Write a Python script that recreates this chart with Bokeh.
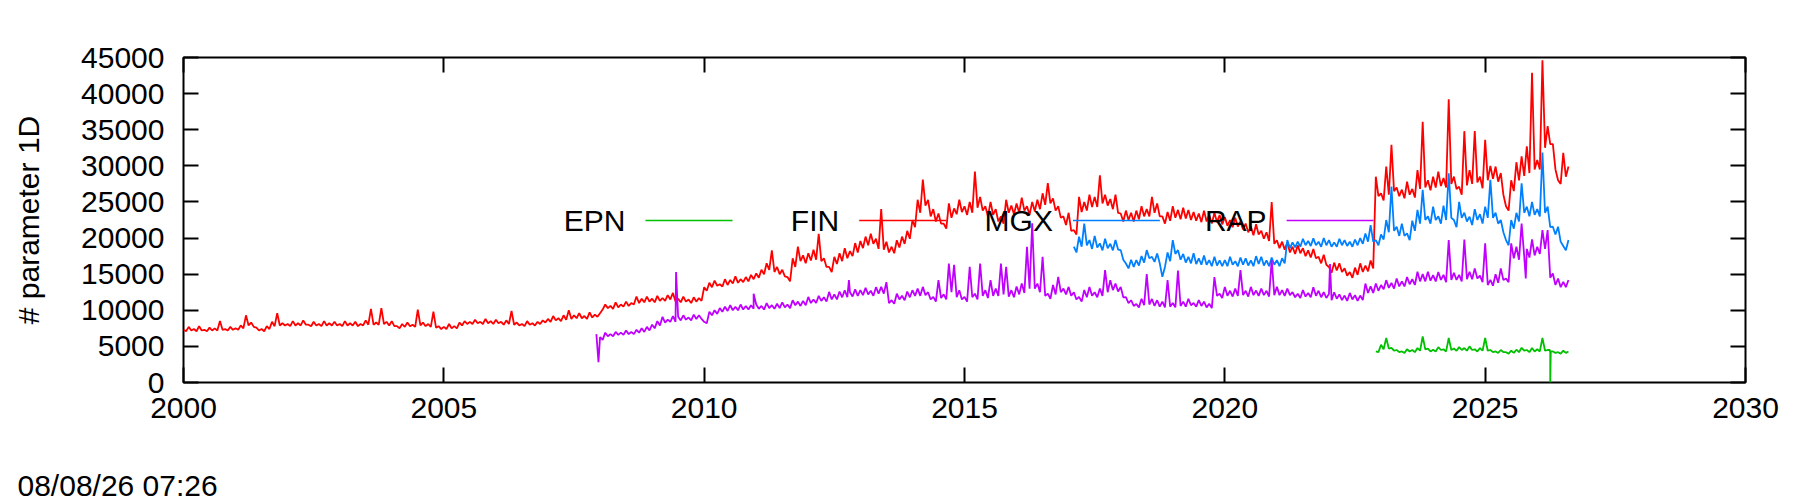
import numpy as np
from bokeh.plotting import figure
from bokeh.layouts import column
from bokeh.models import Range1d, FixedTicker, LinearAxis, Label, NumeralTickFormatter
from bokeh.embed import file_html
from bokeh.resources import INLINE

# ---------------- data ----------------
X_TICKS = [2000, 2005, 2010, 2015, 2020, 2025, 2030]
Y_TICKS = [0, 5000, 10000, 15000, 20000, 25000, 30000, 35000, 40000, 45000]
SERIES = ["EPN", "FIN", "MGX", "RAP"]
COLORS = {"EPN": "#00c000", "FIN": "#ff0000", "MGX": "#0080ff", "RAP": "#c000ff"}
Y_LABEL = "# parameter 1D"
TIMESTAMP = "08/08/26 07:26"
STEP = 0.1  # sampling interval (years) of the *_VALUES lists; *_LOWS sit half a step later

FIN_START = 2000.0
FIN_VALUES = [
    7300, 7700, 7400, 7800, 7300, 7600, 7500, 8500, 7400, 7700,
    7500, 7900, 9300, 8300, 7600, 7400, 7800, 8400, 9600, 8200,
    8100, 8500, 8200, 8600, 8000, 8400, 8100, 8500, 8200, 8400,
    8100, 8500, 8200, 8400, 8100, 8600, 10200, 8300, 10300, 8400,
    8500, 7800, 8100, 8300, 8000, 10100, 8300, 8100, 9800, 7800,
    7700, 8100, 7800, 8300, 8500, 8400, 8700, 8400, 8800, 8500,
    8700, 8400, 8600, 9900, 8300, 8100, 8500, 8200, 8400, 8600,
    8800, 9200, 8900, 9300, 10000, 9300, 9600, 9200, 9700, 9400,
    9600, 10800, 10600, 11100, 10800, 11200, 11000, 11900, 11600, 11900,
    11600, 12000, 11700, 12100, 12400, 11600, 11900, 11500, 11800, 11700,
    13200, 13800, 14100, 13600, 14300, 14200, 14700, 14300, 14600, 14900,
    15100, 15600, 16500, 18300, 16000, 15600, 14600, 17200, 18800, 17600,
    17900, 18400, 20600, 17200, 16000, 17400, 17900, 18600, 18200, 19300,
    19600, 20200, 20600, 19900, 24000, 19500, 18800, 19700, 20200, 21000,
    22500, 25300, 28100, 25300, 24000, 23400, 22000, 24800, 24100, 25300,
    24400, 25000, 29200, 25700, 24400, 25000, 24000, 23000, 25300, 24500,
    24800, 25600, 24400, 25000, 25300, 26200, 27600, 25500, 24400, 23000,
    23500, 21100, 25700, 25000, 26000, 25700, 28700, 26000, 25400, 26000,
    23400, 23800, 23500, 23800, 24400, 24000, 25700, 24800, 23000, 23600,
    24400, 23900, 24200, 23900, 23600, 23400, 23800, 23200, 23500, 23200,
    22900, 22500, 22800, 22300, 22000, 21600, 21900, 21000, 20800, 25000,
    19700, 19500, 19400, 18800, 19000, 18600, 18300, 18500, 17400, 17700,
    16000, 16600, 16500, 15800, 15300, 15900, 16500, 16200, 16900, 28500,
    26200, 29900, 32900, 27000, 26700, 27800, 26800, 29400, 36100, 28000,
    28500, 29200, 28300, 39200, 28500, 27100, 34800, 29400, 34800, 28500,
    33600, 30000, 29900, 29000, 24400, 28000, 30500, 31300, 32700, 42900,
    30800, 44600, 35500, 33000, 28000, 31800, 29900,
]
FIN_LOWS = [
    7100, 7200, 7100, 7200, 7100, 7200, 7200, 7300, 7200, 7300,
    7300, 7500, 7900, 7700, 7200, 7100, 7400, 7800, 7900, 7900,
    7800, 7900, 7900, 8000, 7800, 7900, 7800, 7900, 7900, 7900,
    7800, 7900, 7900, 7800, 7900, 8000, 8000, 8000, 8100, 7900,
    7800, 7500, 7700, 7800, 7700, 7900, 7800, 7700, 7600, 7400,
    7400, 7500, 7500, 7900, 8100, 8100, 8200, 8100, 8200, 8100,
    8200, 8000, 8100, 8000, 7900, 7800, 8000, 7900, 8100, 8300,
    8400, 8600, 8500, 8700, 8800, 8900, 8900, 8800, 9000, 9100,
    10100, 10300, 10200, 10400, 10500, 10600, 10800, 11000, 11100, 11200,
    11100, 11300, 11300, 11500, 11200, 11100, 11200, 11000, 11200, 11300,
    12700, 13200, 13400, 13300, 13500, 13700, 13800, 13900, 14000, 14300,
    14500, 15000, 15600, 15300, 15000, 14700, 14000, 16000, 16800, 16500,
    16900, 17000, 16800, 16000, 15300, 16400, 16800, 17200, 17500, 18000,
    18600, 19000, 19200, 18500, 18400, 18000, 17900, 18700, 19200, 19900,
    21500, 23500, 24500, 23000, 22300, 22000, 21300, 22800, 23300, 23600,
    23200, 23500, 24200, 23800, 23000, 23200, 22300, 22000, 23500, 23300,
    23500, 23800, 23200, 23700, 24000, 24600, 24800, 23800, 22800, 21800,
    21000, 20500, 23600, 23800, 24300, 24300, 24800, 24500, 24000, 23500,
    22300, 22500, 22300, 22600, 23000, 23000, 23500, 23000, 22000, 22400,
    22800, 22600, 22700, 22500, 22400, 22200, 22300, 22000, 22200, 21900,
    21700, 21500, 21600, 21200, 20800, 20400, 20500, 19900, 19600, 19200,
    18600, 18400, 18000, 17800, 17900, 17500, 17300, 17200, 16500, 16300,
    15200, 15500, 15300, 14800, 14500, 14900, 15300, 15400, 15800, 25800,
    25200, 26000, 26500, 25800, 25500, 26000, 25600, 26800, 27000, 26600,
    27000, 27200, 27000, 27500, 26800, 26000, 27300, 27500, 27700, 26900,
    28000, 28200, 27800, 26000, 23800, 26500, 28000, 28600, 29000, 29500,
    29500, 32500, 33000, 29500, 27500, 28500,
]
FIN_EVENT_YEARS = []
FIN_EVENT_VALUES = []

RAP_START = 2008.0
RAP_VALUES = [
    6300, 6900, 6700, 7000, 6900, 7200, 7000, 7300, 7500, 7700,
    8000, 8500, 9100, 8700, 9200, 9100, 9300, 9000, 9400, 9300,
    8400, 9800, 10000, 10300, 10500, 10700, 10500, 10800, 10600, 10700,
    10800, 10600, 11000, 10700, 10900, 11100, 10800, 11400, 11200, 11300,
    11850, 11500, 12000, 11800, 12550, 12200, 12600, 12780, 12500, 12900,
    12800, 13100, 12700, 13200, 13240, 13900, 11400, 12300, 12000, 12600,
    12780, 13000, 13240, 12500, 11850, 14170, 12200, 16480, 16300, 12780,
    11850, 16020, 12300, 16480, 12780, 14170, 13000, 16480, 16000, 12780,
    13300, 13700, 18800, 22040, 13700, 17400, 12300, 13500, 14630, 13000,
    13240, 12500, 11850, 12800, 13240, 12500, 13000, 15560, 14170, 13700,
    13240, 11810, 11390, 10880, 11600, 15000, 11570, 11390, 11200, 14170,
    11000, 15500, 11200, 11600, 11000, 11400, 11200, 10900, 14600, 12300,
    13240, 12700, 13000, 15560, 12700, 13240, 12730, 13000, 12700, 16940,
    13240, 12780, 13000, 12500, 12300, 12800, 12400, 13200, 12700, 12500,
    12270, 12500, 12200, 12040, 12400, 12100, 12040, 13700, 13300, 13700,
    13500, 14170, 13800, 14400, 14000, 14600, 14300, 15330, 15000, 15330,
    14860, 15300, 14900, 19720, 15200, 14900, 19800, 15330, 15800, 14800,
    19260, 14200, 15000, 15800, 14400, 19260, 18800, 22000, 18500, 19800,
    18800, 21100, 21110, 15100, 14400, 13940, 14200,
]
RAP_LOWS = [
    5900, 6400, 6400, 6600, 6600, 6700, 6700, 6900, 7000, 7200,
    7500, 7900, 8300, 8400, 8400, 8600, 8700, 8600, 8800, 8800,
    8200, 9300, 9500, 9800, 9900, 10000, 10000, 10100, 10100, 10200,
    10200, 10100, 10300, 10200, 10300, 10400, 10300, 10700, 10600, 10700,
    11000, 11000, 11300, 11200, 11500, 11500, 11800, 11800, 11900, 12000,
    12100, 12200, 12000, 12300, 12300, 11000, 10900, 11500, 11400, 11800,
    12000, 12000, 12100, 11500, 11200, 11700, 11500, 12500, 11800, 11500,
    11200, 11800, 11500, 12000, 11700, 12000, 12000, 12200, 11900, 11800,
    12200, 12400, 13000, 13000, 12500, 12000, 11600, 12200, 12500, 12200,
    12000, 11500, 11200, 11800, 12000, 11800, 12000, 12500, 12800, 12600,
    11800, 11000, 10600, 10400, 10700, 10800, 10600, 10500, 10400, 10500,
    10400, 10600, 10500, 10700, 10500, 10600, 10400, 10300, 12000, 11700,
    12000, 11900, 12000, 12100, 11900, 12100, 12000, 12100, 11900, 12100,
    12100, 12000, 12100, 11800, 11700, 11900, 11800, 12000, 11800, 11700,
    11400, 11600, 11400, 11300, 11500, 11300, 11400, 12400, 12400, 12700,
    12900, 13100, 13000, 13300, 13300, 13600, 13500, 14000, 14000, 14100,
    14000, 14200, 13900, 14200, 14200, 14000, 14300, 14300, 14400, 13900,
    13500, 13400, 13800, 14200, 13900, 17200, 17000, 17500, 17300, 17600,
    17800, 18500, 14500, 13500, 13200, 13200,
]
RAP_EVENT_YEARS = [2007.93, 2007.97, 2009.46, 2010.95, 2012.78, 2022.02, 2025.78]
RAP_EVENT_VALUES = [6700, 2800, 15300, 12300, 14170, 16400, 14400]

MGX_START = 2017.1
MGX_VALUES = [
    18800, 20190, 22000, 19720, 20300, 19260, 19900, 19200, 19720,
    18330, 16480, 17000, 16940, 17500, 18330, 17400, 17870, 14630, 18000,
    19720, 18330, 17800, 17410, 17900, 17200, 17600, 16940, 17400, 16900,
    16940, 17400, 16800, 17300, 17180, 16900, 17500, 17410, 16900, 17300,
    16940, 17200, 19720, 19400, 19500, 19900, 19600, 19950, 19500, 20000,
    19720, 19400, 19900, 19720, 19500, 19800, 20000, 20640, 21800, 19720,
    20500, 22500, 27130, 21570, 22000, 20640, 22400, 23890, 26670, 23000,
    24350, 23000, 24500, 28980, 22500, 25000, 23500, 22960, 24000, 23300,
    24350, 28060, 23500, 22500, 19720, 22500, 23500, 27590, 24350, 25000,
    24000, 31850, 24350, 21570, 21570, 18890, 19720,
]
MGX_LOWS = [
    18000, 18800, 19000, 18500, 18700, 18300, 18600, 18300, 18400,
    17000, 15800, 16000, 16200, 16600, 17200, 16700, 16500, 16000, 16800,
    17800, 17000, 16600, 16500, 16400, 16300, 16300, 16100, 16200, 16100,
    16100, 16300, 16100, 16300, 16200, 16100, 16400, 16200, 16100, 16300,
    16100, 16500, 18600, 18700, 18800, 19000, 18900, 19000, 18800, 19000,
    18800, 18800, 19000, 18900, 18800, 19000, 19200, 19500, 19500, 19000,
    19800, 20800, 21000, 20300, 20300, 19700, 21000, 22000, 22500, 22000,
    22500, 22000, 22500, 22800, 21500, 22800, 22300, 21800, 22500, 22000,
    22800, 22800, 22000, 20800, 19000, 21300, 22300, 23500, 23000, 23200,
    23000, 23500, 21500, 20500, 19500, 18300,
]
MGX_EVENT_YEARS = []
MGX_EVENT_VALUES = []

EPN_START = 2022.9
EPN_VALUES = [
    4300,
    5230, 6160, 4800, 4500, 4300, 4600, 4500, 4770, 6390, 4700,
    4540, 4900, 4600, 6160, 4700, 4900, 4770, 5000, 4600, 4770,
    6160, 4500, 4300, 4500, 4200, 4400, 4540, 4800, 4500, 4770,
    4600, 6160, 4500, 4300, 4200, 4400, 4300,
]
EPN_LOWS = [
    4200,
    4600, 4700, 4400, 4200, 4100, 4300, 4200, 4400, 4600, 4300,
    4300, 4500, 4300, 4500, 4400, 4500, 4400, 4500, 4300, 4400,
    4400, 4200, 4100, 4200, 4000, 4100, 4200, 4400, 4200, 4300,
    4300, 4400, 4200, 4100, 4000, 4100,
]
EPN_EVENT_YEARS = [2026.24, 2026.25, 2026.26]
EPN_EVENT_VALUES = [4500, 0, 4300]

DATA = {
    "EPN": (EPN_START, EPN_VALUES, EPN_LOWS, EPN_EVENT_YEARS, EPN_EVENT_VALUES),
    "FIN": (FIN_START, FIN_VALUES, FIN_LOWS, FIN_EVENT_YEARS, FIN_EVENT_VALUES),
    "MGX": (MGX_START, MGX_VALUES, MGX_LOWS, MGX_EVENT_YEARS, MGX_EVENT_VALUES),
    "RAP": (RAP_START, RAP_VALUES, RAP_LOWS, RAP_EVENT_YEARS, RAP_EVENT_VALUES),
}

# ---------------- layout ----------------
X_MIN, X_MAX = 2000, 2030
Y_MIN, Y_MAX = 0, 45000
FRAME_W, FRAME_H = 1562, 325
BORDER_L, BORDER_R, BORDER_T, BORDER_B = 183, 50, 57, 58
FOOT_H = 62
FONT = "Liberation Sans"
FSIZE = "30px"
TOTAL_W = BORDER_L + FRAME_W + BORDER_R
DATA_LINE_W = 1.8

p = figure(width=TOTAL_W, height=BORDER_T + FRAME_H + BORDER_B,
           frame_width=FRAME_W, frame_height=FRAME_H,
           x_range=Range1d(X_MIN, X_MAX), y_range=Range1d(Y_MIN, Y_MAX),
           output_backend="svg", toolbar_location=None,
           min_border_left=BORDER_L, min_border_right=BORDER_R,
           min_border_top=BORDER_T, min_border_bottom=BORDER_B)
p.frame_align = False
p.xgrid.visible = False
p.ygrid.visible = False
p.outline_line_color = "black"
p.outline_line_width = 2
p.background_fill_color = "white"
p.border_fill_color = "white"


def style_axis(ax, ticks, show):
    ax.ticker = FixedTicker(ticks=ticks)
    ax.formatter = NumeralTickFormatter(format="0")
    ax.axis_line_color = None
    ax.major_tick_in = 15
    ax.major_tick_out = 0
    ax.major_tick_line_width = 2
    ax.major_tick_line_color = "black"
    ax.minor_tick_line_color = None
    ax.major_label_text_font = FONT
    if show:
        ax.major_label_text_font_size = FSIZE
        ax.major_label_text_color = "black"
    else:
        ax.major_label_text_font_size = "1px"
        ax.major_label_text_color = None


style_axis(p.xaxis[0], X_TICKS, True)
style_axis(p.yaxis[0], Y_TICKS, True)
p.xaxis[0].major_label_standoff = 15
p.yaxis[0].major_label_standoff = 19
p.yaxis[0].axis_label = Y_LABEL
p.yaxis[0].axis_label_text_font = FONT
p.yaxis[0].axis_label_text_font_size = FSIZE
p.yaxis[0].axis_label_text_font_style = "normal"
p.yaxis[0].axis_label_text_color = "black"
p.yaxis[0].axis_label_standoff = 33

right_ax = LinearAxis()
style_axis(right_ax, Y_TICKS, False)
p.add_layout(right_ax, "right")
top_ax = LinearAxis()
style_axis(top_ax, X_TICKS, False)
p.add_layout(top_ax, "above")


def sx_to_data(rel_x):
    return X_MIN + rel_x / FRAME_W * (X_MAX - X_MIN)


def sy_to_data(rel_y):
    return Y_MIN + rel_y / FRAME_H * (Y_MAX - Y_MIN)


# key: text right-aligned, then line sample (screen offsets from frame origin)
KEY_TEXT_X0 = 442
KEY_LINE_X0 = 462
KEY_LINE_LEN = 87
KEY_DX = 213.7
KEY_LINE_Y = 162
KEY_TEXT_Y = 162

for i, name in enumerate(SERIES):
    start, vals, lows, ev_y, ev_v = DATA[name]
    t_hi = start + STEP * np.arange(len(vals))
    t_lo = start + STEP * np.arange(len(lows)) + STEP / 2
    xs = np.concatenate([t_hi, t_lo, np.array(ev_y, dtype=float)])
    ys = np.concatenate([np.array(vals, dtype=float), np.array(lows, dtype=float),
                         np.array(ev_v, dtype=float)])
    order = np.argsort(xs, kind="stable")
    xs, ys = xs[order], ys[order]

    p.add_layout(Label(x=KEY_TEXT_X0 + i * KEY_DX, y=KEY_TEXT_Y, x_units="screen", y_units="screen",
                       text=name, text_align="right", text_baseline="middle",
                       text_font=FONT, text_font_size=FSIZE, text_color="black"))
    lx0 = sx_to_data(KEY_LINE_X0 + i * KEY_DX)
    lx1 = sx_to_data(KEY_LINE_X0 + i * KEY_DX + KEY_LINE_LEN)
    ly = sy_to_data(KEY_LINE_Y)
    p.segment(x0=[lx0], y0=[ly], x1=[lx1], y1=[ly], line_color=COLORS[name], line_width=1.5)
    p.line(xs, ys, line_color=COLORS[name], line_width=DATA_LINE_W)

# footer strip carrying the timestamp (its frame spans the whole strip)
foot = figure(width=TOTAL_W, height=FOOT_H, x_range=Range1d(0, 1), y_range=Range1d(0, 1),
              output_backend="svg", toolbar_location=None,
              x_axis_location=None, y_axis_location=None,
              min_border_left=0, min_border_right=0, min_border_top=0, min_border_bottom=0)
foot.frame_align = False
foot.xgrid.visible = False
foot.ygrid.visible = False
foot.outline_line_color = None
foot.background_fill_color = "white"
foot.border_fill_color = "white"
foot.add_layout(Label(x=17, y=17, x_units="screen", y_units="screen", text=TIMESTAMP,
                      text_align="left", text_baseline="middle",
                      text_font=FONT, text_font_size=FSIZE, text_color="black"))

layout = column(p, foot, spacing=0)
open("out.html", "w").write(file_html(layout, INLINE))
